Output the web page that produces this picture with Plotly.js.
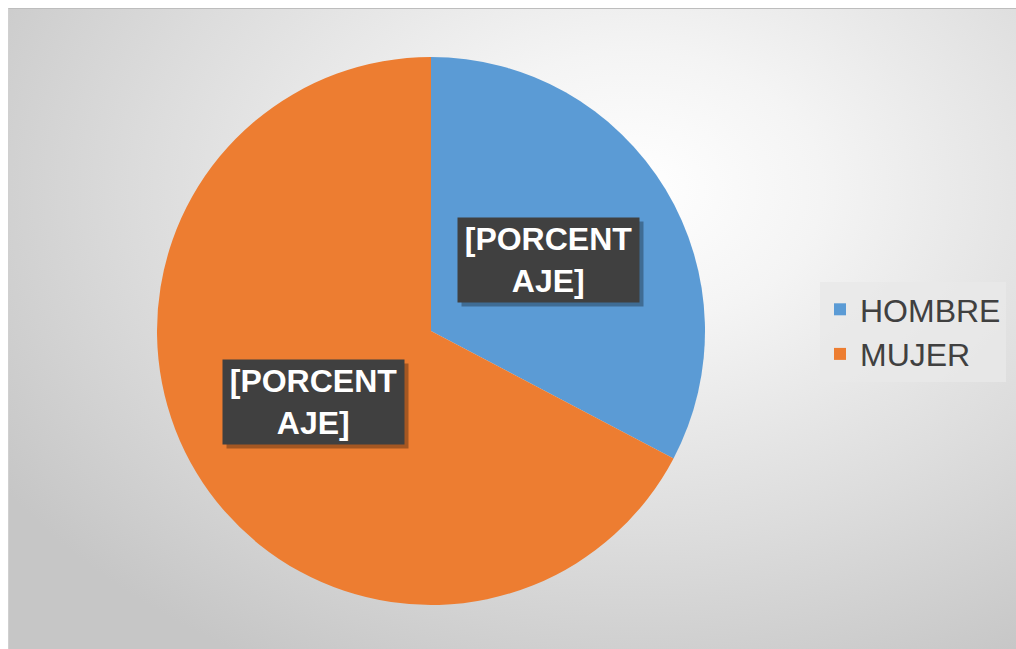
<!DOCTYPE html>
<html>
<head>
<meta charset="utf-8">
<script src="https://cdn.plot.ly/plotly-3.0.1.min.js"></script>
<style>
  html, body { margin: 0; padding: 0; background: #ffffff; }
  #bg {
    position: absolute; left: 8px; top: 8px; width: 1008px; height: 641px;
    background: radial-gradient(ellipse 75% 85% at 62% 28%, #ffffff 0%, #f4f4f4 25%, #dcdcdc 65%, #c6c6c6 100%);
    border-top: 1px solid #bdbdbd; border-left: 1px solid #d0d0d0;
    box-sizing: border-box;
  }
  #chart { position: absolute; left: 0; top: 0; width: 1016px; height: 649px; }
</style>
</head>
<body>
<div id="bg"></div>
<div id="chart"></div>
<script>
const categories = ["HOMBRE", "MUJER"];
const values = [32.7, 67.3];
const colors = ["#5B9BD5", "#ED7D31"];
const labelText = "[PORCENT<br>AJE]";

const W = 1016, H = 649;
const cxPx = 431, cyPx = 331, rPx = 274;
const domX = [(cxPx - rPx) / W, (cxPx + rPx) / W];
const domY = [1 - (cyPx + rPx) / H, 1 - (cyPx - rPx) / H];

const trace = {
  type: "pie",
  labels: categories,
  values: values,
  sort: false,
  direction: "clockwise",
  rotation: 0,
  marker: { colors: colors, line: { width: 0 } },
  textinfo: "none",
  hoverinfo: "label+percent",
  domain: { x: domX, y: domY }
};

// label positions derived from data: midpoint angle of each slice at half radius
const total = values.reduce((a, b) => a + b, 0);
const annotations = [];
let cum = 0;
const cxP = (domX[0] + domX[1]) / 2, cyP = (domY[0] + domY[1]) / 2;
values.forEach((v, i) => {
  const mid = (cum + v / 2) / total * 2 * Math.PI;
  cum += v;
  const x = cxP + 0.5 * rPx * Math.sin(mid) / W;
  const y = cyP + 0.5 * rPx * Math.cos(mid) / H;
  annotations.push({
    xref: "paper", yref: "paper", x: x, y: y, xanchor: "center", yanchor: "middle",
    text: "", showarrow: false, width: 181, height: 84, bgcolor: "rgba(0,0,0,0.3)",
    borderpad: 0, xshift: 4, yshift: -4
  });
  annotations.push({
    xref: "paper", yref: "paper", x: x, y: y, xanchor: "center", yanchor: "middle",
    text: labelText, showarrow: false, width: 181, height: 84, bgcolor: "#404040",
    borderpad: 0, align: "center", valign: "middle",
    font: { family: "Liberation Sans, Arial, sans-serif", size: 32, color: "#ffffff", weight: "bold" }
  });
});

const layout = {
  width: W, height: H,
  margin: { l: 0, r: 0, t: 0, b: 0 },
  paper_bgcolor: "rgba(0,0,0,0)",
  plot_bgcolor: "rgba(0,0,0,0)",
  showlegend: true,
  legend: {
    x: 820 / W, y: 1 - 282 / H, xanchor: "left", yanchor: "top",
    bgcolor: "rgba(232,232,232,0.8)",
    font: { family: "Liberation Sans, Arial, sans-serif", size: 32, color: "#404040" },
    itemwidth: 30
  },
  annotations: annotations
};

Plotly.newPlot("chart", [trace], layout, { displayModeBar: false, staticPlot: true });
</script>
</body>
</html>
